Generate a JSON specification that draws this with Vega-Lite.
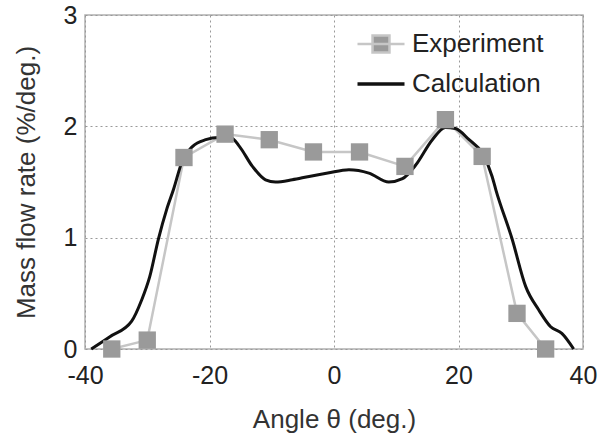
{
  "$schema": "https://vega.github.io/schema/vega-lite/v6.json",
  "width": 498,
  "height": 334,
  "autosize": "none",
  "padding": {"left": 85, "top": 15, "right": 20, "bottom": 89},
  "background": "white",
  "config": {
    "font": "Liberation Sans",
    "view": {"stroke": "#b0b0b0", "strokeWidth": 1.5}
  },
  "datasets": {
    "exp": [
      {"angle": -35.7, "rate": 0.0, "series": "Experiment"},
      {"angle": -30.0, "rate": 0.08, "series": "Experiment"},
      {"angle": -24.1, "rate": 1.72, "series": "Experiment"},
      {"angle": -17.5, "rate": 1.93, "series": "Experiment"},
      {"angle": -10.4, "rate": 1.88, "series": "Experiment"},
      {"angle": -3.3, "rate": 1.77, "series": "Experiment"},
      {"angle": 4.1, "rate": 1.77, "series": "Experiment"},
      {"angle": 11.4, "rate": 1.64, "series": "Experiment"},
      {"angle": 17.9, "rate": 2.06, "series": "Experiment"},
      {"angle": 23.8, "rate": 1.73, "series": "Experiment"},
      {"angle": 29.4, "rate": 0.32, "series": "Experiment"},
      {"angle": 34.0, "rate": 0.0, "series": "Experiment"}
    ],
    "calc": [
      {"angle": -39.0, "rate": 0.0, "series": "Calculation"},
      {"angle": -36.0, "rate": 0.11, "series": "Calculation"},
      {"angle": -32.5, "rate": 0.25, "series": "Calculation"},
      {"angle": -30.9, "rate": 0.44, "series": "Calculation"},
      {"angle": -29.6, "rate": 0.65, "series": "Calculation"},
      {"angle": -28.2, "rate": 0.99, "series": "Calculation"},
      {"angle": -26.9, "rate": 1.25, "series": "Calculation"},
      {"angle": -25.8, "rate": 1.43, "series": "Calculation"},
      {"angle": -24.3, "rate": 1.70, "series": "Calculation"},
      {"angle": -22.7, "rate": 1.82, "series": "Calculation"},
      {"angle": -20.6, "rate": 1.88, "series": "Calculation"},
      {"angle": -18.5, "rate": 1.90, "series": "Calculation"},
      {"angle": -16.6, "rate": 1.90, "series": "Calculation"},
      {"angle": -15.2, "rate": 1.82, "series": "Calculation"},
      {"angle": -13.1, "rate": 1.64, "series": "Calculation"},
      {"angle": -11.0, "rate": 1.52, "series": "Calculation"},
      {"angle": -9.4, "rate": 1.50, "series": "Calculation"},
      {"angle": -6.7, "rate": 1.52, "series": "Calculation"},
      {"angle": -4.0, "rate": 1.55, "series": "Calculation"},
      {"angle": -1.0, "rate": 1.58, "series": "Calculation"},
      {"angle": 2.4, "rate": 1.61, "series": "Calculation"},
      {"angle": 5.6, "rate": 1.58, "series": "Calculation"},
      {"angle": 8.8, "rate": 1.50, "series": "Calculation"},
      {"angle": 11.0, "rate": 1.53, "series": "Calculation"},
      {"angle": 13.1, "rate": 1.65, "series": "Calculation"},
      {"angle": 15.8, "rate": 1.88, "series": "Calculation"},
      {"angle": 17.9, "rate": 1.99, "series": "Calculation"},
      {"angle": 19.5, "rate": 1.98, "series": "Calculation"},
      {"angle": 21.7, "rate": 1.88, "series": "Calculation"},
      {"angle": 23.8, "rate": 1.76, "series": "Calculation"},
      {"angle": 25.4, "rate": 1.55, "series": "Calculation"},
      {"angle": 26.0, "rate": 1.43, "series": "Calculation"},
      {"angle": 28.6, "rate": 0.99, "series": "Calculation"},
      {"angle": 30.8, "rate": 0.56, "series": "Calculation"},
      {"angle": 32.9, "rate": 0.35, "series": "Calculation"},
      {"angle": 34.8, "rate": 0.20, "series": "Calculation"},
      {"angle": 36.6, "rate": 0.14, "series": "Calculation"},
      {"angle": 38.5, "rate": 0.0, "series": "Calculation"}
    ]
  },
  "encoding": {
    "x": {
      "field": "angle", "type": "quantitative",
      "scale": {"domain": [-40, 40], "nice": false, "zero": false},
      "axis": {
        "values": [-40, -20, 0, 20, 40],
        "labelExpr": "'' + datum.value",
        "labelFlush": false,
        "title": "Angle θ (deg.)",
        "titleFontSize": 26, "titleFontWeight": "normal", "titleColor": "#333", "titlePadding": 18,
        "labelFontSize": 25, "labelColor": "#222", "labelPadding": 14,
        "domain": false, "ticks": false,
        "grid": true, "gridColor": "#999", "gridDash": [2, 3], "gridWidth": 1
      }
    },
    "y": {
      "field": "rate", "type": "quantitative",
      "scale": {"domain": [0, 3], "nice": false},
      "axis": {
        "values": [0, 1, 2, 3],
        "labelFlush": false,
        "title": "Mass flow rate (%/deg.)",
        "titleFontSize": 26, "titleFontWeight": "normal", "titleColor": "#333", "titlePadding": 24,
        "labelFontSize": 25, "labelColor": "#222", "labelPadding": 8,
        "domain": false, "ticks": false,
        "grid": true, "gridColor": "#999", "gridDash": [2, 3], "gridWidth": 1
      }
    }
  },
  "layer": [
    {
      "data": {"name": "exp"},
      "mark": {"type": "line", "strokeWidth": 2.5},
      "encoding": {
        "color": {
          "field": "series", "type": "nominal",
          "scale": {"domain": ["Experiment", "Calculation"], "range": ["#c6c6c6", "#111111"]},
          "legend": {
            "title": null,
            "orient": "none", "legendX": 283, "legendY": 16,
            "symbolSize": 2209,
            "labelFontSize": 26, "labelColor": "#222", "labelOffset": 18,
            "rowPadding": 13,
            "encode": {
              "symbols": {
                "update": {
                  "shape": {"signal": "datum.value === 'Experiment' ? 'M-1,0H1M-0.36,-0.36H0.36V0.36H-0.36Z' : 'M-1,0H1'"},
                  "fill": {"signal": "datum.value === 'Experiment' ? '#9a9a9a' : 'transparent'"},
                  "strokeWidth": {"signal": "datum.value === 'Experiment' ? 2.5 : 3.5"},
                  "opacity": {"value": 1}
                }
              }
            }
          }
        }
      }
    },
    {
      "data": {"name": "calc"},
      "mark": {"type": "line", "strokeWidth": 3, "interpolate": "monotone"},
      "encoding": {
        "color": {"field": "series", "type": "nominal"}
      }
    },
    {
      "data": {"name": "exp"},
      "mark": {"type": "square", "size": 300, "filled": true, "opacity": 1, "color": "#9a9a9a"}
    }
  ]
}
